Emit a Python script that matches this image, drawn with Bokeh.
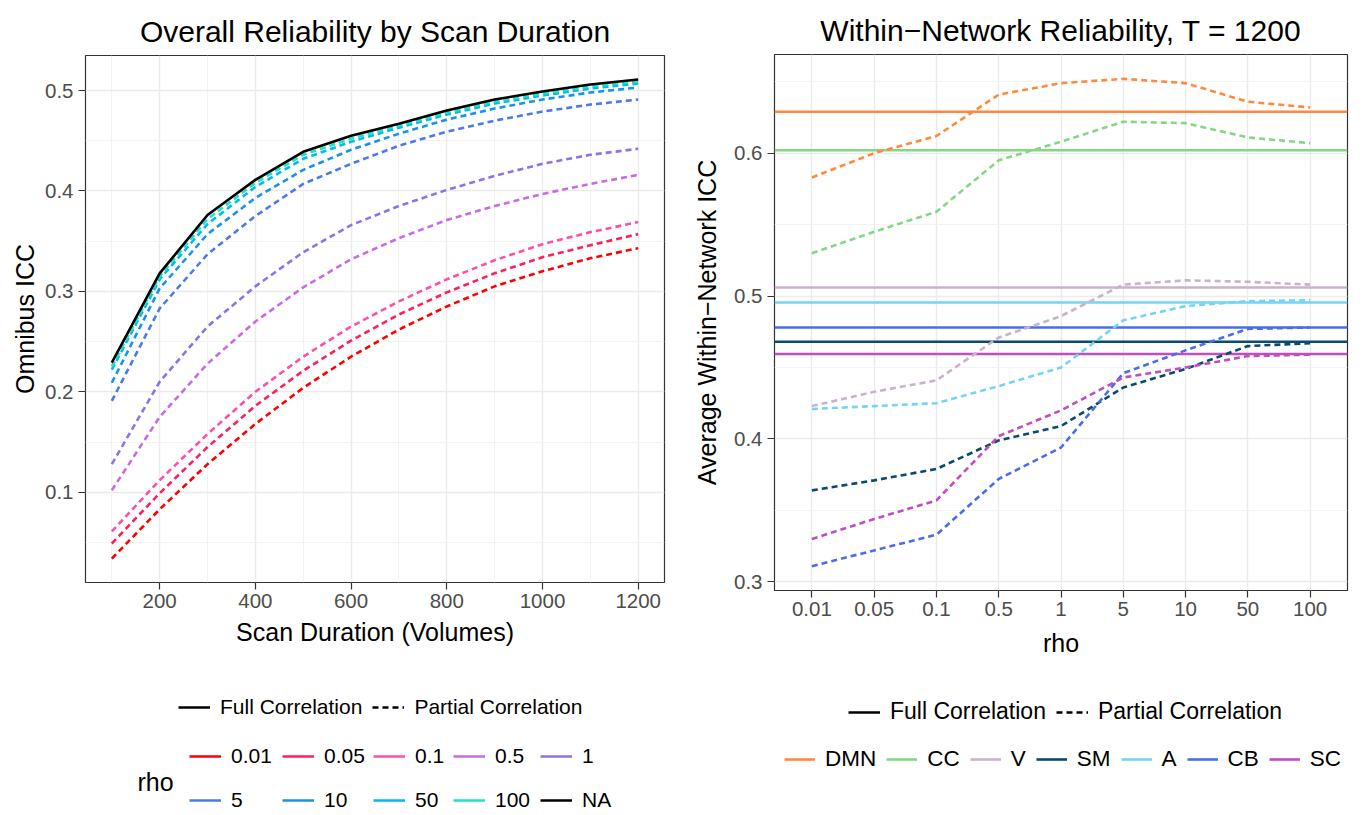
from bokeh.plotting import figure
from bokeh.layouts import row, column
from bokeh.models import FixedTicker, Legend, LegendItem, Range1d, Label
from bokeh.embed import file_html
from bokeh.resources import INLINE

FONT = "Liberation Sans"
NAN = float("nan")

# ---------------- data: left panel ----------------
durations = [100, 200, 300, 400, 500, 600, 700, 800, 900, 1000, 1100, 1200]
rho_levels = ["0.01", "0.05", "0.1", "0.5", "1", "5", "10", "50", "100", "NA"]
rho_colors = ["#FF0000", "#FF1F5E", "#FF4FA6", "#C86BE4", "#9172E4",
              "#4A7BEA", "#1A92EC", "#00BCEC", "#1DE3C6", "#000000"]

icc_rho_0_01 = [0.034, 0.083, 0.128, 0.168, 0.204, 0.235, 0.262, 0.285, 0.305, 0.320, 0.333, 0.343]
icc_rho_0_05 = [0.049, 0.099, 0.145, 0.186, 0.221, 0.251, 0.277, 0.299, 0.318, 0.334, 0.346, 0.357]
icc_rho_0_1 = [0.061, 0.112, 0.158, 0.200, 0.235, 0.265, 0.290, 0.312, 0.331, 0.347, 0.359, 0.369]
icc_rho_0_5 = [0.102, 0.175, 0.228, 0.270, 0.304, 0.332, 0.353, 0.371, 0.385, 0.397, 0.407, 0.416]
icc_rho_1 = [0.128, 0.210, 0.265, 0.305, 0.339, 0.366, 0.385, 0.401, 0.415, 0.427, 0.436, 0.442]
icc_rho_5 = [0.191, 0.283, 0.337, 0.375, 0.407, 0.427, 0.445, 0.459, 0.470, 0.479, 0.486, 0.491]
icc_rho_10 = [0.209, 0.303, 0.357, 0.393, 0.421, 0.441, 0.457, 0.471, 0.482, 0.491, 0.498, 0.503]
icc_rho_50 = [0.222, 0.312, 0.367, 0.404, 0.432, 0.449, 0.463, 0.476, 0.487, 0.495, 0.502, 0.507]
icc_rho_100 = [0.225, 0.315, 0.372, 0.408, 0.436, 0.452, 0.465, 0.478, 0.489, 0.497, 0.504, 0.509]
icc_full = [0.229, 0.318, 0.376, 0.411, 0.439, 0.455, 0.467, 0.480, 0.491, 0.499, 0.506, 0.511]

partial_series = [icc_rho_0_01, icc_rho_0_05, icc_rho_0_1, icc_rho_0_5, icc_rho_1,
                  icc_rho_5, icc_rho_10, icc_rho_50, icc_rho_100]

left_xticks = [200, 400, 600, 800, 1000, 1200]
left_xminor = [100, 300, 500, 700, 900, 1100]
left_yticks = [0.1, 0.2, 0.3, 0.4, 0.5]
left_yminor = [0.05, 0.15, 0.25, 0.35, 0.45]

# ---------------- data: right panel ----------------
rho_ticks = ["0.01", "0.05", "0.1", "0.5", "1", "5", "10", "50", "100"]
networks = ["DMN", "CC", "V", "SM", "A", "CB", "SC"]
net_colors = ["#FF8A3D", "#84D884", "#C9B3CB", "#0B4A6E", "#72D5F6", "#4A6EE6", "#C24CC2"]

full_icc = [0.629, 0.602, 0.506, 0.468, 0.4955, 0.478, 0.4595]

part_DMN = [0.583, 0.600, 0.612, 0.641, 0.649, 0.652, 0.649, 0.636, 0.632]
part_CC = [0.530, 0.545, 0.559, 0.595, 0.608, 0.622, 0.621, 0.611, 0.607]
part_V = [0.423, 0.433, 0.441, 0.471, 0.486, 0.508, 0.511, 0.510, 0.508]
part_SM = [0.364, 0.371, 0.379, 0.399, 0.409, 0.436, 0.449, 0.465, 0.467]
part_A = [0.421, 0.423, 0.425, 0.437, 0.450, 0.483, 0.493, 0.4965, 0.497]
part_CB = [0.311, 0.322, 0.333, 0.372, 0.394, 0.446, 0.462, 0.477, 0.478]
part_SC = [0.330, 0.344, 0.357, 0.402, 0.420, 0.443, 0.450, 0.458, 0.459]

net_partial = [part_DMN, part_CC, part_V, part_SM, part_A, part_CB, part_SC]

right_yticks = [0.3, 0.4, 0.5, 0.6]
right_yminor = [0.35, 0.45, 0.55, 0.65]

LW = 2.6
DASH = "6 4"
TOTAL_H = 815

# page geometry (canvas pixels)
W1, W2 = 690, 676
L1_LEFT, L1_RIGHT = 85, 26
L2_LEFT, L2_RIGHT = 84, 19


def style(p, xlabel, ylabel, title):
    p.background_fill_color = "white"
    p.border_fill_color = "white"
    p.outline_line_color = "#333333"
    p.outline_line_width = 1.2
    p.title.text = title
    p.title.align = "center"
    p.title.text_font = FONT
    p.title.text_font_size = "30px"
    p.title.text_font_style = "normal"
    p.title.text_color = "black"
    p.title.standoff = 15
    for ax in (p.xaxis[0], p.yaxis[0]):
        ax.axis_line_color = None
        ax.major_tick_line_color = "#333333"
        ax.major_tick_line_width = 1.2
        ax.major_tick_out = 7
        ax.major_tick_in = 0
        ax.minor_tick_line_color = None
        ax.major_label_text_font = FONT
        ax.major_label_text_font_size = "20.5px"
        ax.major_label_text_color = "#4D4D4D"
        ax.axis_label_text_font = FONT
        ax.axis_label_text_font_size = "25px"
        ax.axis_label_text_font_style = "normal"
        ax.axis_label_text_color = "black"
    p.xaxis.axis_label = xlabel
    p.yaxis.axis_label = ylabel
    p.xaxis.major_label_standoff = 4
    p.xaxis.axis_label_standoff = 7
    p.yaxis.major_label_standoff = 5
    for g in (p.xgrid[0], p.ygrid[0]):
        g.grid_line_color = "#EBEBEB"
        g.grid_line_width = 1.4
        g.minor_grid_line_color = "#F2F2F2"
        g.minor_grid_line_width = 0.9


def legend_fig(width, height, left, right):
    fw = width - left - right
    f = figure(width=width, height=height, output_backend="svg", toolbar_location=None,
               x_range=Range1d(0, fw), y_range=Range1d(0, height),
               x_axis_location=None, y_axis_location=None,
               min_border_left=left, min_border_right=right,
               min_border_top=0, min_border_bottom=0)
    f.outline_line_color = None
    f.grid.visible = False
    f.background_fill_color = "white"
    f.border_fill_color = "white"
    return f


def key_line(f, color, dash="solid"):
    # legend-key renderer only: holds no visible data
    return f.line([NAN, NAN], [NAN, NAN], line_color=color, line_width=LW, line_dash=dash)


def add_legend(f, items, loc, size, orientation="horizontal", spacing=10, glyph_width=32):
    leg = Legend(items=items, orientation=orientation, location=loc,
                 border_line_color=None, background_fill_alpha=0,
                 label_text_font=FONT, label_text_font_size=size,
                 label_text_color="black", label_width=1, label_height=24,
                 glyph_width=glyph_width, glyph_height=24, label_standoff=10, spacing=spacing,
                 padding=0, margin=0)
    f.add_layout(leg)
    return leg


# ---------------- left figure ----------------
xspan = durations[-1] - durations[0]
all_left = [v for s in partial_series + [icc_full] for v in s]
yspan = max(all_left) - min(all_left)
H1 = 662
p1 = figure(width=W1, height=H1, output_backend="svg", toolbar_location=None,
            x_range=Range1d(durations[0] - 0.05 * xspan, durations[-1] + 0.05 * xspan),
            y_range=Range1d(min(all_left) - 0.05 * yspan, max(all_left) + 0.05 * yspan),
            min_border_left=L1_LEFT, min_border_right=L1_RIGHT, min_border_top=55,
            min_border_bottom=80)
style(p1, "Scan Duration (Volumes)", "Omnibus ICC", "Overall Reliability by Scan Duration")
p1.yaxis.axis_label_standoff = 3
p1.xaxis.ticker = FixedTicker(ticks=left_xticks, minor_ticks=left_xminor)
p1.yaxis.ticker = FixedTicker(ticks=left_yticks, minor_ticks=left_yminor)

for s, c in zip(partial_series, rho_colors[:-1]):
    p1.line(durations, s, line_color=c, line_width=LW, line_dash=DASH)
p1.line(durations, icc_full, line_color="black", line_width=LW)

# left legends (positions in pixels from the legend frame's left edge)
L1H = TOTAL_H - H1
lf1 = legend_fig(W1, L1H, L1_LEFT, L1_RIGHT)
add_legend(lf1, [LegendItem(label="Full Correlation", renderers=[key_line(lf1, "black")]),
                 LegendItem(label="Partial Correlation", renderers=[key_line(lf1, "black", DASH)])],
           (178 - L1_LEFT, (TOTAL_H - 707) - 12), "21px")

col_x = [189, 282, 373, 453, 540]
for ci, cx in enumerate(col_x):
    items = []
    for ri in range(2):
        k = ri * 5 + ci
        items.append(LegendItem(label=rho_levels[k], renderers=[key_line(lf1, rho_colors[k])]))
    add_legend(lf1, items, (cx - L1_LEFT, (TOTAL_H - 800) - 12), "21px",
               orientation="vertical", spacing=20)
lf1.add_layout(Label(x=137 - L1_LEFT, y=TOTAL_H - 781, text="rho", text_baseline="middle",
                     text_font=FONT, text_font_size="25px", text_color="black"))

# ---------------- right figure ----------------
ncat = len(rho_ticks)
xpos = list(range(1, ncat + 1))
xlo, xhi = 1 - 0.6, ncat + 0.6
all_right = [v for s in net_partial for v in s] + full_icc
rspan = max(all_right) - min(all_right)
H2 = 670
p2 = figure(width=W2, height=H2, output_backend="svg", toolbar_location=None,
            x_range=Range1d(xlo, xhi),
            y_range=Range1d(min(all_right) - 0.05 * rspan, max(all_right) + 0.05 * rspan),
            min_border_left=L2_LEFT, min_border_right=L2_RIGHT, min_border_top=54,
            min_border_bottom=80)
style(p2, "rho", "Average Within\u2212Network ICC", "Within\u2212Network Reliability, T = 1200")
p2.yaxis.axis_label_standoff = 10
p2.xaxis.axis_label_standoff = 10
p2.xaxis.ticker = FixedTicker(ticks=xpos)
p2.xaxis.major_label_overrides = {i: lab for i, lab in zip(xpos, rho_ticks)}
p2.yaxis.ticker = FixedTicker(ticks=right_yticks, minor_ticks=right_yminor)
p2.xgrid[0].minor_grid_line_color = None

for v, c in zip(full_icc, net_colors):
    p2.line([xlo, xhi], [v, v], line_color=c, line_width=LW)
for s, c in zip(net_partial, net_colors):
    p2.line(xpos, s, line_color=c, line_width=LW, line_dash=DASH)

L2H = TOTAL_H - H2
R0 = W1 + L2_LEFT  # canvas x of right frame's left edge
lf2 = legend_fig(W2, L2H, L2_LEFT, L2_RIGHT)
add_legend(lf2, [LegendItem(label="Full Correlation", renderers=[key_line(lf2, "black")]),
                 LegendItem(label="Partial Correlation", renderers=[key_line(lf2, "black", DASH)])],
           (848 - R0, (TOTAL_H - 713) - 12), "23px")
net_items = [LegendItem(label=lab, renderers=[key_line(lf2, c)])
             for lab, c in zip(networks, net_colors)]
add_legend(lf2, net_items, (784 - R0, (TOTAL_H - 760) - 12), "22.5px", glyph_width=31)

layout = row(column(p1, lf1), column(p2, lf2))
open("out.html", "w").write(file_html(layout, INLINE))
